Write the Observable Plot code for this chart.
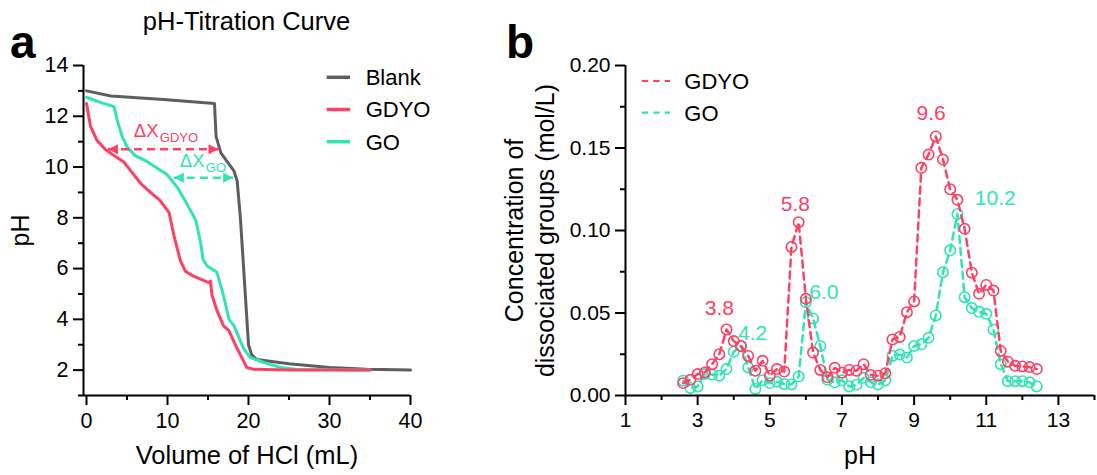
<!DOCTYPE html>
<html><head><meta charset="utf-8">
<script src="https://cdn.jsdelivr.net/npm/d3@7"></script>
<script src="https://cdn.jsdelivr.net/npm/@observablehq/plot@0.6"></script>
<style>
html,body{margin:0;padding:0;background:#fff;}
#root{position:relative;width:1097px;height:475px;overflow:hidden;background:#fff;}
#root svg{position:absolute;top:0;}
</style></head><body><div id="root"></div>
<script>
// ---------- Panel a data: pH titration curves ----------
const blankVol = [0, 3, 9.5, 15.8, 16.0, 16.6, 18.2, 18.6, 19.0, 19.5, 20.0, 20.4, 21.0, 25, 30, 34.6, 40];
const blankPH  = [13.0, 12.8, 12.66, 12.5, 11.2, 10.55, 9.85, 9.45, 8.0, 5.5, 3.0, 2.6, 2.42, 2.25, 2.1, 2.03, 2.0];
const gdyoVol = [0, 0.5, 1.3, 2.3, 3.4, 4.6, 5.4, 6.7, 7.9, 9.1, 10.2, 10.8, 11.6, 12.2, 13.2, 15.1, 15.3, 15.5, 16.1, 16.9, 17.6, 18.6, 19.8, 20.7, 25, 35];
const gdyoPH  = [12.5, 11.6, 11.05, 10.7, 10.45, 10.2, 9.88, 9.35, 9.0, 8.68, 8.2, 7.3, 6.3, 5.9, 5.7, 5.45, 5.5, 4.95, 4.35, 3.75, 3.55, 2.85, 2.1, 2.03, 2.0, 2.0];
const goVol = [0, 1.7, 3.4, 3.8, 4.4, 5.0, 6.0, 7.3, 8.5, 9.9, 11.2, 12.4, 13.5, 14.1, 14.4, 14.9, 15.9, 16.1, 16.9, 17.6, 18.2, 19.4, 20.2, 21.9, 24, 26, 35];
const goPH  = [12.75, 12.55, 12.38, 11.85, 11.2, 10.8, 10.45, 10.25, 10.0, 9.72, 9.2, 8.55, 7.9, 7.0, 6.35, 6.1, 5.9, 5.85, 4.95, 4.0, 3.75, 2.85, 2.5, 2.3, 2.1, 2.02, 2.0];
const seriesA = ["Blank", "GDYO", "GO"];
const xDomainA = [-0.37, 40];
const yDomainA = [1, 14];
const xTicksA = [0, 10, 20, 30, 40];
const xMinorA = [5, 15, 25, 35];
const yTicksA = [2, 4, 6, 8, 10, 12, 14];
const yMinorA = [1, 3, 5, 7, 9, 11, 13];
// ΔX annotation arrows (mL, pH)
const arrowSeries = ["GDYO", "GO"];
const arrowX1 = [2.65, 10.78];
const arrowX2 = [16.3, 18.1];
const arrowY  = [10.7, 9.58];
const deltaMainX = [5.84, 11.52];
const deltaMainY = [11.17, 9.99];
const deltaSubX  = [9.05, 14.73];
const deltaSubY  = [10.98, 9.79];

// ---------- Panel b data: dissociated groups ----------
const phB = [2.6, 2.8, 3.0, 3.2, 3.4, 3.6, 3.8, 4.0, 4.2, 4.4, 4.6, 4.8, 5.0, 5.2, 5.4, 5.6, 5.8, 6.0, 6.2, 6.4, 6.6, 6.8, 7.0, 7.2, 7.4, 7.6, 7.8, 8.0, 8.2, 8.4, 8.6, 8.8, 9.0, 9.2, 9.4, 9.6, 9.8, 10.0, 10.2, 10.4, 10.6, 10.8, 11.0, 11.2, 11.4, 11.6, 11.8, 12.0, 12.2, 12.4];
const gdyoConc = [0.0075, 0.0095, 0.013, 0.014, 0.019, 0.025, 0.040, 0.033, 0.030, 0.024, 0.015, 0.021, 0.012, 0.016, 0.0145, 0.090, 0.105, 0.0586, 0.026, 0.0155, 0.011, 0.0168, 0.0138, 0.0155, 0.015, 0.019, 0.0125, 0.012, 0.0135, 0.034, 0.0355, 0.0505, 0.057, 0.138, 0.146, 0.157, 0.143, 0.125, 0.1186, 0.101, 0.0744, 0.0616, 0.067, 0.0636, 0.027, 0.0205, 0.018, 0.0176, 0.0172, 0.016];
const goConc = [0.009, 0.0046, 0.0055, 0.013, 0.0127, 0.012, 0.016, 0.0265, 0.030, 0.017, 0.004, 0.0093, 0.0075, 0.0083, 0.007, 0.0067, 0.0115, 0.0565, 0.0467, 0.030, 0.0095, 0.008, 0.0092, 0.0055, 0.0065, 0.0107, 0.008, 0.0067, 0.0092, 0.024, 0.0248, 0.023, 0.030, 0.031, 0.035, 0.0485, 0.0747, 0.088, 0.110, 0.0596, 0.053, 0.0507, 0.0495, 0.040, 0.019, 0.0087, 0.0087, 0.0087, 0.008, 0.0055];
const seriesB = ["GDYO", "GO"];
const peakText   = ["3.8", "4.2", "5.8", "6.0", "9.6", "10.2"];
const peakSeries = ["GDYO", "GO", "GDYO", "GO", "GDYO", "GO"];
const peakX = [3.60, 4.52, 5.71, 6.50, 9.47, 11.25];
const peakY = [0.0485, 0.0338, 0.1121, 0.0586, 0.1667, 0.1156];
const xDomainB = [1, 14];
const yDomainB = [0, 0.2];
const xTicksB = [1, 3, 5, 7, 9, 11, 13];
const xMinorB = [2, 4, 6, 8, 10, 12, 14];
const yTicksB = [0, 0.05, 0.10, 0.15, 0.20];
const yMinorB = [0.025, 0.075, 0.125, 0.175];

// ---------- styling ----------
const FONT = '"Liberation Sans", Arial, Helvetica, sans-serif';
const colors = {Blank: "#5e5e5e", GDYO: "#fd4164", GO: "#30e4b4"};
const H = 475;

const rows = (xs, ys, kx, ky) => xs.map((v, i) => ({[kx]: v, [ky]: ys[i]}));
const blankRows = rows(blankVol, blankPH, "vol", "ph");
const gdyoRows = rows(gdyoVol, gdyoPH, "vol", "ph");
const goRows = rows(goVol, goPH, "vol", "ph");
const arrows = arrowSeries.map((s, i) => ({series: s, x1: arrowX1[i], x2: arrowX2[i], y: arrowY[i],
  mx: deltaMainX[i], my: deltaMainY[i], sx: deltaSubX[i], sy: deltaSubY[i]}));

const axisCommon = {strokeWidth: 2, label: null};

const plotA = Plot.plot({
  width: 430, height: H,
  marginLeft: 83, marginRight: 20, marginTop: 65, marginBottom: 80,
  style: {fontFamily: FONT, color: "#000", background: "transparent", overflow: "visible"},
  x: {domain: xDomainA, label: null},
  y: {domain: yDomainA, label: null},
  marks: [
    Plot.line(blankRows, {x: "vol", y: "ph", stroke: colors.Blank, strokeWidth: 3, strokeLinejoin: "round"}),
    Plot.line(goRows, {x: "vol", y: "ph", stroke: colors.GO, strokeWidth: 3, strokeLinejoin: "round"}),
    Plot.line(gdyoRows, {x: "vol", y: "ph", stroke: colors.GDYO, strokeWidth: 3, strokeLinejoin: "round"}),
    ...arrowSeries.map(s => Plot.link(arrows.filter(d => d.series === s), {
      x1: "x1", x2: "x2", y1: "y", y2: "y", stroke: colors[s], strokeWidth: 2.5,
      strokeDasharray: "8,5", markerStart: "arrow", markerEnd: "arrow"})),
    ...arrowSeries.map(s => Plot.text(arrows.filter(d => d.series === s), {
      x: "mx", y: "my", text: () => "ΔX", fill: colors[s], fontSize: 18.5, textAnchor: "start", lineAnchor: "bottom"})),
    ...arrowSeries.map(s => Plot.text(arrows.filter(d => d.series === s), {
      x: "sx", y: "sy", text: d => d.series, fill: colors[s], fontSize: 13, textAnchor: "start", lineAnchor: "bottom"})),
    Plot.ruleX([xDomainA[0]], {stroke: "#000", strokeWidth: 2}),
    Plot.ruleY([yDomainA[0]], {stroke: "#000", strokeWidth: 2}),
    Plot.axisX({ticks: xTicksA, tickSize: 10, tickPadding: 7, fontSize: 21.5, tickFormat: d => String(d), ...axisCommon}),
    Plot.axisX({ticks: xMinorA, tickSize: 5, tickFormat: () => "", ...axisCommon}),
    Plot.axisY({ticks: yTicksA, tickSize: 10, tickPadding: 5, fontSize: 21.5, tickFormat: d => String(d), ...axisCommon}),
    Plot.axisY({ticks: yMinorA, tickSize: 5, tickFormat: () => "", ...axisCommon}),
    Plot.text(["Volume of HCl (mL)"], {text: d => d, frameAnchor: "bottom", dy: 68, textAnchor: "middle", lineAnchor: "bottom", fontSize: 25.5, fill: "#000"}),
    Plot.text(["pH"], {text: d => d, frameAnchor: "left", rotate: -90, dx: -55, textAnchor: "middle", lineAnchor: "bottom", fontSize: 25, fill: "#000"})
  ]
});

const rowsBG = phB.map((p, i) => ({ph: p, c: gdyoConc[i]}));
const rowsBO = phB.map((p, i) => ({ph: p, c: goConc[i]}));
const peaks = peakText.map((t, i) => ({t, series: peakSeries[i], x: peakX[i], y: peakY[i]}));
const seriesRowsB = {GDYO: rowsBG, GO: rowsBO};

const plotB = Plot.plot({
  width: 657, height: H,
  marginLeft: 185, marginRight: 3, marginTop: 65, marginBottom: 80,
  style: {fontFamily: FONT, color: "#000", background: "transparent", overflow: "visible"},
  x: {domain: xDomainB, label: null},
  y: {domain: yDomainB, label: null},
  marks: [
    ...["GO", "GDYO"].flatMap(s => [
      Plot.line(seriesRowsB[s], {x: "ph", y: "c", stroke: colors[s], strokeWidth: 2.5, strokeDasharray: "7,5"}),
      Plot.dot(seriesRowsB[s], {x: "ph", y: "c", r: 5.2, stroke: colors[s], strokeWidth: 1.6, fill: "none"})
    ]),
    ...seriesB.map(s => Plot.text(peaks.filter(d => d.series === s), {
      x: "x", y: "y", text: "t", fill: colors[s], fontSize: 21, lineAnchor: "bottom"})),
    Plot.ruleX([xDomainB[0]], {stroke: "#000", strokeWidth: 2}),
    Plot.ruleY([yDomainB[0]], {stroke: "#000", strokeWidth: 2}),
    Plot.axisX({ticks: xTicksB, tickSize: 10, tickPadding: 7, fontSize: 21, tickFormat: d => String(d), ...axisCommon}),
    Plot.axisX({ticks: xMinorB, tickSize: 5, tickFormat: () => "", ...axisCommon}),
    Plot.axisY({ticks: yTicksB, tickSize: 10, tickPadding: 5, fontSize: 21, tickFormat: d3.format(".2f"), ...axisCommon}),
    Plot.axisY({ticks: yMinorB, tickSize: 5, tickFormat: () => "", ...axisCommon}),
    Plot.text(["pH"], {text: d => d, frameAnchor: "bottom", dy: 68, textAnchor: "middle", lineAnchor: "bottom", fontSize: 25, fill: "#000"}),
    Plot.text(["Concentration of"], {text: d => d, frameAnchor: "left", rotate: -90, dx: -103, textAnchor: "middle", lineAnchor: "bottom", fontSize: 25, fill: "#000"}),
    Plot.text(["dissociated groups (mol/L)"], {text: d => d, frameAnchor: "left", rotate: -90, dx: -72, textAnchor: "middle", lineAnchor: "bottom", fontSize: 25, fill: "#000"})
  ]
});

// filled double-headed arrowheads for the ΔX annotations
d3.select(plotA).selectAll("marker").each(function() {
  const c = this.getAttribute("stroke");
  d3.select(this).attr("orient", "auto-start-reverse").attr("overflow", "visible")
    .attr("stroke", "none").attr("fill", c)
    .selectAll("path").attr("d", "M-6,-3L0,0L-6,3Z").attr("fill", c).attr("stroke", "none").attr("stroke-dasharray", null);
});

const root = document.getElementById("root");
plotA.style.left = "0px";
plotB.style.left = "440px";
root.appendChild(plotA);
root.appendChild(plotB);

// ---------- overlay: title, panel letters, legends ----------
const ov = d3.select(root).append("svg").attr("width", 1097).attr("height", H)
  .style("left", "0px").style("pointer-events", "none").style("font-family", FONT);
ov.append("text").attr("x", 246.5).attr("y", 29.5).attr("text-anchor", "middle").attr("font-size", 25.5).text("pH-Titration Curve");
ov.append("text").attr("x", 10).attr("y", 58).attr("font-size", 46).attr("font-weight", "bold").text("a");
ov.append("text").attr("x", 506).attr("y", 58).attr("font-size", 46).attr("font-weight", "bold").text("b");

const legA = ov.append("g");
seriesA.forEach((s, i) => {
  const y = [77.3, 109.5, 141.7][i];
  legA.append("line").attr("x1", 326.7).attr("x2", 350).attr("y1", y).attr("y2", y)
    .attr("stroke", colors[s]).attr("stroke-width", 3.5);
  legA.append("text").attr("x", 365.7).attr("y", y).attr("dy", "0.36em").attr("font-size", 22).text(s);
});
const legB = ov.append("g");
seriesB.forEach((s, i) => {
  const y = [81, 112.7][i];
  legB.append("line").attr("x1", 641.7).attr("x2", 670).attr("y1", y).attr("y2", y)
    .attr("stroke", colors[s]).attr("stroke-width", 2.2).attr("stroke-dasharray", "6.5,5");
  legB.append("text").attr("x", 684.3).attr("y", y).attr("dy", "0.36em").attr("font-size", 22).text(s);
});
</script></body></html>
